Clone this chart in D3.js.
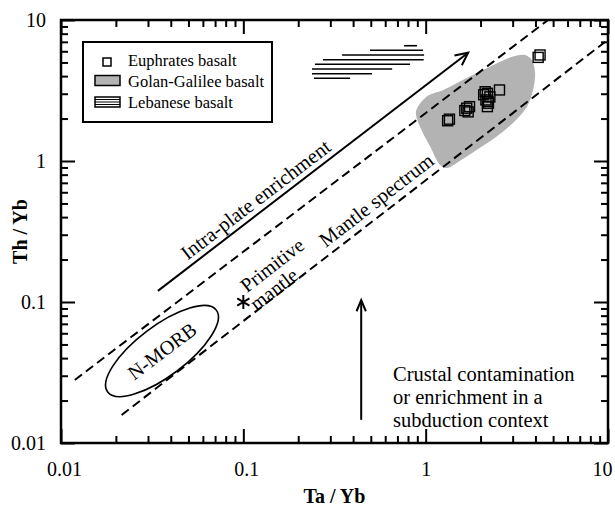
<!DOCTYPE html>
<html><head><meta charset="utf-8">
<script src="https://cdn.jsdelivr.net/npm/d3@7"></script>
<style>body{margin:0;background:#fff}svg{display:block}text{font-family:"Liberation Serif","Times New Roman",serif;fill:#000}</style>
</head><body>
<svg id="c" width="615" height="506"></svg>
<script>
// ---------- data ----------
const majorTicks = [0.01, 0.1, 1, 10];
const tickLabels = ["0.01", "0.1", "1", "10"];
const minorTicks = [2,3,4,5,6,7,8,9].flatMap(m => [0.01*m, 0.1*m, 1*m]);

// Euphrates basalt samples [Ta/Yb, Th/Yb]
const euphratesTa = [1.32, 1.35, 1.64, 1.68, 1.74, 1.71, 2.12, 2.18, 2.14, 2.21, 2.18, 2.25, 2.54, 4.14, 4.24, 2.08, 2.20];
const euphratesTh = [1.93, 1.98, 2.28, 2.37, 2.43, 2.23, 3.10, 3.02, 2.71, 2.57, 2.43, 2.85, 3.19, 5.43, 5.65, 2.95, 2.65];

// Golan-Galilee field outline
const golanTa = [0.885, 1.01, 1.25, 1.68, 2.25, 3.01, 3.51, 3.82, 3.98, 3.88, 3.59, 3.01, 2.45, 1.91, 1.48, 1.31, 1.20, 1.06, 0.932];
const golanTh = [2.24, 2.86, 3.19, 3.88, 4.67, 5.50, 5.65, 5.20, 4.21, 3.19, 2.43, 1.86, 1.49, 1.20, 0.968, 0.891, 0.937, 1.26, 1.75];

// Lebanese basalt hatch lines: Th/Yb level, Ta/Yb start, Ta/Yb end
const lebTh  = [6.57, 6.10, 5.65, 5.23, 4.85, 4.49, 4.16, 3.86];
const lebTa1 = [0.761, 0.495, 0.348, 0.2735, 0.247, 0.238, 0.238, 0.244];
const lebTa2 = [0.897, 0.968, 0.980, 0.975, 0.821, 0.655, 0.508, 0.385];

// Mantle array boundaries [Ta/Yb, Th/Yb]
const upperLine = [[0.0119, 0.028], [4.69, 10]];
const lowerLine = [[0.0215, 0.0158], [10, 7.26]];
// Intra-plate enrichment arrow
const enrichArrow = [[0.034, 0.12], [1.71, 5.86]];
// Crustal contamination arrow
const crustArrow = [[0.443, 0.0146], [0.443, 0.103]];
// Primitive mantle
const primitiveMantle = [0.1, 0.1];
// N-MORB ellipse centre
const nmorb = [0.0358, 0.0449];

const legendItems = ["Euphrates basalt", "Golan-Galilee basalt", "Lebanese basalt"];
const crustText = ["Crustal contamination", "or enrichment in a", "subduction context"];

// ---------- chart ----------
const svg = d3.select("#c");
const L = 61, R = 608, T = 20, B = 443;
const x = d3.scaleLog().domain([0.01, 10]).range([L, R]);
const y = d3.scaleLog().domain([0.01, 10]).range([B, T]);

svg.append("defs").append("clipPath").attr("id","clip")
  .append("rect").attr("x",L).attr("y",T).attr("width",R-L).attr("height",B-T);
const plot = svg.append("g").attr("clip-path","url(#clip)");

// Golan-Galilee field
plot.append("path")
  .datum(golanTa.map((d,i)=>[d, golanTh[i]]))
  .attr("d", d3.line().x(d=>x(d[0])).y(d=>y(d[1])).curve(d3.curveCatmullRomClosed.alpha(0.5)))
  .attr("fill","#b3b3b3").attr("stroke","none");

// Lebanese hatch
plot.selectAll(".leb").data(lebTh).join("line")
  .attr("x1",(d,i)=>x(lebTa1[i])).attr("x2",(d,i)=>x(lebTa2[i]))
  .attr("y1",d=>y(d)).attr("y2",d=>y(d))
  .attr("stroke","#000").attr("stroke-width",1.6);

// dashed mantle array
[upperLine, lowerLine].forEach(l=>{
  plot.append("line")
    .attr("x1",x(l[0][0])).attr("y1",y(l[0][1]))
    .attr("x2",x(l[1][0])).attr("y2",y(l[1][1]))
    .attr("stroke","#000").attr("stroke-width",2).attr("stroke-dasharray","9,5");
});

function arrow(a, len, spread){
  const x1=x(a[0][0]), y1=y(a[0][1]), x2=x(a[1][0]), y2=y(a[1][1]);
  const ang=Math.atan2(y2-y1, x2-x1);
  plot.append("line").attr("x1",x1).attr("y1",y1).attr("x2",x2).attr("y2",y2)
    .attr("stroke","#000").attr("stroke-width",2);
  const p=d3.path();
  p.moveTo(x2-len*Math.cos(ang-spread), y2-len*Math.sin(ang-spread));
  p.lineTo(x2,y2);
  p.lineTo(x2-len*Math.cos(ang+spread), y2-len*Math.sin(ang+spread));
  plot.append("path").attr("d",p.toString()).attr("fill","none")
    .attr("stroke","#000").attr("stroke-width",2);
  return ang*180/Math.PI;
}
const enrichAng = arrow(enrichArrow, 14, 0.45);
arrow(crustArrow, 12, 0.4);

// Euphrates squares
plot.selectAll(".eu").data(euphratesTa).join("rect")
  .attr("x",(d)=>x(d)-5).attr("y",(d,i)=>y(euphratesTh[i])-5)
  .attr("width",10).attr("height",10)
  .attr("fill","none").attr("stroke","#000").attr("stroke-width",1.4);

// primitive mantle
plot.append("path")
  .attr("d", d3.symbol(d3.symbolAsterisk, 140)())
  .attr("transform",`translate(${x(primitiveMantle[0])},${y(primitiveMantle[1])})`)
  .attr("stroke","#000").attr("stroke-width",2).attr("fill","none");

// N-MORB ellipse
const arrAng = Math.atan2(y(10)-y(1), x(10)-x(1))*180/Math.PI;
const ng = plot.append("g").attr("transform",`translate(${x(nmorb[0])},${y(nmorb[1])}) rotate(-37)`);
ng.append("ellipse").attr("rx",68).attr("ry",25).attr("fill","none").attr("stroke","#000").attr("stroke-width",1.6);
ng.append("text").attr("text-anchor","middle").attr("dy","0.35em").attr("font-size",20).text("N-MORB");

function rotText(t, d, ang, size, dy){
  svg.append("text").attr("transform",`translate(${x(d[0])},${y(d[1])}) rotate(${ang})`)
    .attr("text-anchor","middle").attr("dy",dy).attr("font-size",size).text(t);
}
rotText("Intra-plate enrichment", [0.129, 0.45], enrichAng, 20.5, -6);
rotText("Mantle spectrum", [0.535, 0.53], arrAng, 20.5, "0.35em");
rotText("Primitive", [0.1437, 0.183], arrAng, 20, "0.35em");
rotText("mantle", [0.147, 0.1236], arrAng, 20, "0.35em");

// crustal text
const ct = svg.append("text").attr("font-size",20.5).attr("x",393);
crustText.forEach((t,i)=>ct.append("tspan").attr("x",393).attr("y",381+i*23).text(t));

// ---------- axes ----------
function ax(gen, tx, ty, vals, size, labels){
  const a = gen.tickValues(vals).tickSizeInner(-size).tickSizeOuter(0)
    .tickFormat(labels ? ((d,i)=>labels[i]) : "");
  const g = svg.append("g").attr("transform",`translate(${tx},${ty})`).call(a);
  g.select(".domain").remove();
  g.selectAll(".tick line").attr("stroke","#000").attr("stroke-width",2);
  g.selectAll("text").attr("font-family","Liberation Serif").attr("font-size",20).attr("fill","#000");
  return g;
}
const gb = ax(d3.axisBottom(x), 0, B, majorTicks, 14, tickLabels);
gb.selectAll("text").attr("dy",null).attr("y",33).attr("x",(d,i)=>[3,3,0,-6][i]);
ax(d3.axisBottom(x), 0, B, minorTicks, 7, null);
ax(d3.axisTop(x), 0, T, majorTicks, 14, null);
ax(d3.axisTop(x), 0, T, minorTicks, 7, null);
const gl = ax(d3.axisLeft(y), L, 0, majorTicks, 14, tickLabels);
gl.selectAll("text").attr("x",-15);
ax(d3.axisLeft(y), L, 0, minorTicks, 7, null);
ax(d3.axisRight(y), R, 0, majorTicks, 14, null);
ax(d3.axisRight(y), R, 0, minorTicks, 7, null);

svg.append("rect").attr("x",L).attr("y",T).attr("width",R-L).attr("height",B-T)
  .attr("fill","none").attr("stroke","#000").attr("stroke-width",2.5);

svg.append("text").attr("x",(L+R)/2).attr("y",503).attr("text-anchor","middle")
  .attr("font-size",20).attr("font-weight","bold").text("Ta / Yb");
svg.append("text").attr("transform",`translate(27,${(T+B)/2}) rotate(-90)`).attr("text-anchor","middle")
  .attr("font-size",20).attr("font-weight","bold").text("Th / Yb");

// ---------- legend ----------
const lg = svg.append("g");
lg.append("rect").attr("x",83).attr("y",42).attr("width",189).attr("height",80)
  .attr("fill","#fff").attr("stroke","#000").attr("stroke-width",2);
lg.append("rect").attr("x",103).attr("y",58).attr("width",8).attr("height",8)
  .attr("fill","none").attr("stroke","#000").attr("stroke-width",1.5);
lg.append("rect").attr("x",95).attr("y",75.5).attr("width",25).attr("height",10)
  .attr("fill","#b3b3b3").attr("stroke","#000").attr("stroke-width",1.5);
lg.append("rect").attr("x",95).attr("y",97).attr("width",25).attr("height",10)
  .attr("fill","#fff").attr("stroke","#000").attr("stroke-width",1.5);
[99.5, 102, 104.5].forEach(v=>lg.append("line").attr("x1",95).attr("x2",120).attr("y1",v).attr("y2",v).attr("stroke","#000").attr("stroke-width",1));
legendItems.forEach((t,i)=>lg.append("text").attr("x",128).attr("y",66+i*21).attr("font-size",16.5).text(t));
</script>
</body></html>
